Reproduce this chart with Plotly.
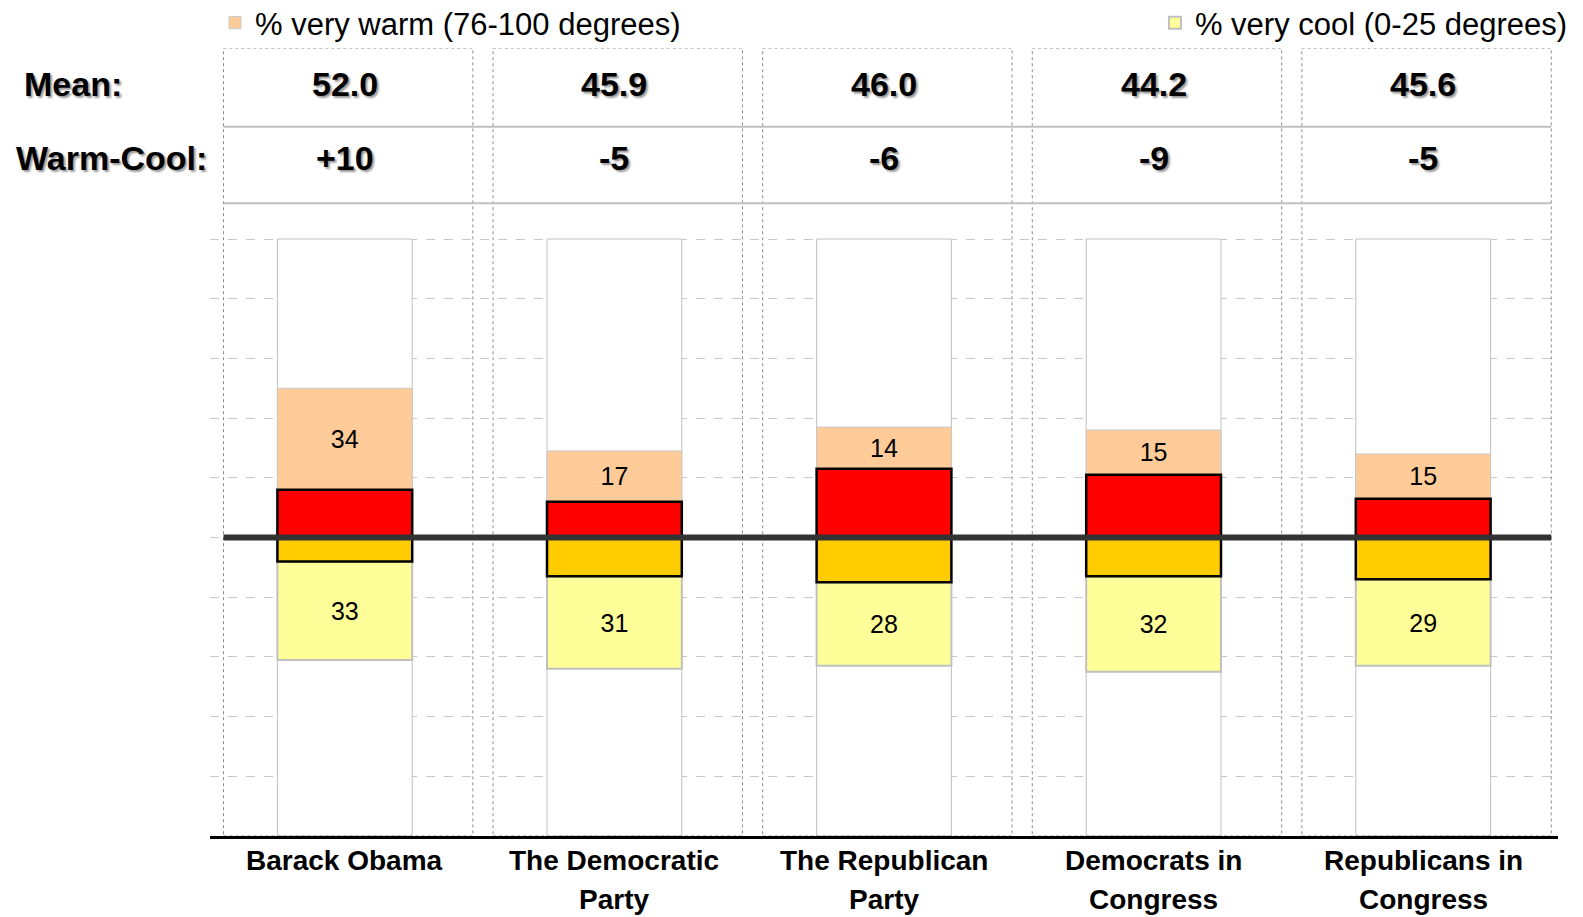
import plotly.graph_objects as go

# ---------------- data ----------------
categories = ["Barack Obama", "The Democratic Party", "The Republican Party",
              "Democrats in Congress", "Republicans in Congress"]
label_lines = [["Barack Obama"], ["The Democratic", "Party"], ["The Republican", "Party"],
               ["Democrats in", "Congress"], ["Republicans in", "Congress"]]
very_warm = [34, 17, 14, 15, 15]      # % very warm (76-100 degrees)
warm = [16, 12, 23, 21, 13]           # % warm (red segment)
cool = [8, 13, 15, 13, 14]            # % cool (orange segment)
very_cool = [33, 31, 28, 32, 29]      # % very cool (0-25 degrees)
means = ["52.0", "45.9", "46.0", "44.2", "45.6"]
warm_cool = ["+10", "-5", "-6", "-9", "-5"]
scale_min, scale_max = -100, 100
grid_ticks = list(range(-80, 101, 20))

FONT = "Arial, 'Liberation Sans', sans-serif"
xs = list(range(len(categories)))

fig = go.Figure()

# white background columns
fig.add_trace(go.Bar(
    x=xs, y=[scale_max - scale_min] * len(xs), base=[scale_min] * len(xs),
    width=0.5, marker=dict(color="white", line=dict(color="#c0c0c0", width=1)),
    showlegend=False, hoverinfo="skip"))

# very warm (peach)
fig.add_trace(go.Bar(
    x=xs, y=very_warm, base=warm, width=0.5, name="% very warm (76-100 degrees)",
    marker=dict(color="#FFCC99", line=dict(color="#c8c8c8", width=1)),
    text=[str(v) for v in very_warm], textposition="inside", insidetextanchor="middle",
    textangle=0, constraintext="none",
    insidetextfont=dict(family=FONT, size=25, color="black"),
    legend="legend", customdata=categories))

# very cool (yellow)
fig.add_trace(go.Bar(
    x=xs, y=very_cool, base=[-(c + v) for c, v in zip(cool, very_cool)], width=0.5,
    name="% very cool (0-25 degrees)",
    marker=dict(color="#FFFF99", line=dict(color="#c0c0c0", width=2)),
    text=[str(v) for v in very_cool], textposition="inside", insidetextanchor="middle",
    textangle=0, constraintext="none",
    insidetextfont=dict(family=FONT, size=25, color="black"),
    legend="legend2", customdata=categories))

# warm (red)
fig.add_trace(go.Bar(
    x=xs, y=warm, base=[0] * len(xs), width=0.5, name="% warm",
    marker=dict(color="#FF0000", line=dict(color="black", width=2.5)),
    showlegend=False))

# cool (orange)
fig.add_trace(go.Bar(
    x=xs, y=cool, base=[-c for c in cool], width=0.5, name="% cool",
    marker=dict(color="#FFCC00", line=dict(color="black", width=2.5)),
    showlegend=False))

# ---------------- shapes ----------------
Y_TOP = 164
shapes = []
for i in xs:
    shapes.append(dict(type="rect", xref="x", yref="y", x0=i - 0.45, x1=i + 0.475,
                       y0=scale_min, y1=Y_TOP, line=dict(color="#8a8a8a", width=1, dash="dot"),
                       layer="above"))
for yy in (137.6, 112.0):
    shapes.append(dict(type="line", xref="x", yref="y", x0=-0.45, x1=xs[-1] + 0.475,
                       y0=yy, y1=yy, line=dict(color="#c0c0c0", width=2), layer="above"))
shapes.append(dict(type="line", xref="x", yref="y", x0=-0.45, x1=xs[-1] + 0.475,
                   y0=0, y1=0, line=dict(color="#333333", width=6), layer="above"))

# ---------------- annotations ----------------
shadow = "2px 2px 2px #9a9a9a"
ann = []
for i in xs:
    ann.append(dict(x=i, y=151.9, xref="x", yref="y", text=means[i], showarrow=False,
                    font=dict(family=FONT, size=34, color="black", weight="bold", shadow=shadow)))
    ann.append(dict(x=i, y=127.1, xref="x", yref="y", text=warm_cool[i], showarrow=False,
                    font=dict(family=FONT, size=34, color="black", weight="bold", shadow=shadow)))
    for k, line in enumerate(label_lines[i]):
        ann.append(dict(x=i, y=-0.0317 - 0.0485 * k, xref="x", yref="paper", text=line,
                        showarrow=False, yanchor="middle",
                        font=dict(family=FONT, size=28, color="black", weight="bold")))
ann.append(dict(x=-0.1395, y=151.9, xref="paper", yref="y", xanchor="left", text="Mean:",
                showarrow=False,
                font=dict(family=FONT, size=34, color="black", weight="bold", shadow=shadow)))
ann.append(dict(x=-0.1454, y=127.1, xref="paper", yref="y", xanchor="left", text="Warm-Cool:",
                showarrow=False,
                font=dict(family=FONT, size=34, color="black", weight="bold", shadow=shadow)))

# the page body adds an 8px offset, so the figure is 8px smaller on each side
fig.update_layout(
    width=1575, height=909,
    margin=dict(l=202, r=25, t=40, b=81, autoexpand=False),
    paper_bgcolor="white", plot_bgcolor="white",
    barmode="overlay",
    font=dict(family=FONT, color="black"),
    xaxis=dict(range=[-0.5, 4.5], showticklabels=False, ticks="", showgrid=False,
               zeroline=False, showline=True, linecolor="black", linewidth=2.5, fixedrange=True),
    yaxis=dict(range=[scale_min, Y_TOP], tickvals=grid_ticks, showticklabels=False, ticks="",
               showgrid=True, gridcolor="#c8c8c8", griddash="dash", gridwidth=1,
               zeroline=False, showline=False, fixedrange=True),
    legend=dict(x=0.0037, y=1.0317, xanchor="left", yanchor="middle", orientation="h",
                font=dict(family=FONT, size=31, color="black"), bgcolor="rgba(0,0,0,0)",
                borderwidth=0),
    legend2=dict(x=0.701, y=1.0317, xanchor="left", yanchor="middle", orientation="h",
                 font=dict(family=FONT, size=31, color="black"), bgcolor="rgba(0,0,0,0)",
                 borderwidth=0),
    shapes=shapes,
    annotations=ann,
    showlegend=True,
)

fig.write_html("out.html")
